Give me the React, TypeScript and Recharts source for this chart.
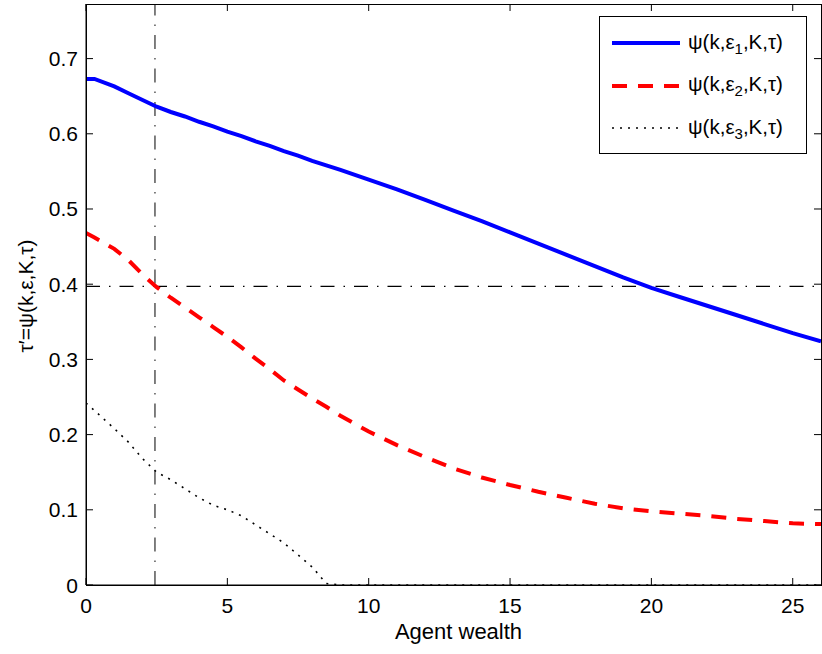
import { LineChart, Line, XAxis, YAxis, ReferenceLine } from "recharts";

// Agent wealth grid and the three policy curves ψ(k,ε_i,K,τ)
const wealth = [
  0, 0.3, 1, 1.5, 2, 2.5, 3, 3.5, 4, 4.5, 5, 5.5, 6, 6.5, 7, 7.5, 8, 8.5, 9,
  10, 11, 12, 13, 14, 15, 16, 17, 18, 19, 20, 21, 22, 23, 24, 25, 26,
];
const psiEps1 = [
  0.673, 0.673, 0.663, 0.654, 0.645, 0.636, 0.629, 0.623, 0.616, 0.61, 0.603,
  0.597, 0.59, 0.584, 0.577, 0.571, 0.564, 0.558, 0.552, 0.539, 0.526, 0.512,
  0.498, 0.484, 0.469, 0.454, 0.439, 0.424, 0.409, 0.395, 0.383, 0.371, 0.359,
  0.347, 0.335, 0.324,
];
const psiEps2 = [
  0.468, 0.462, 0.447, 0.432, 0.413, 0.396, 0.382, 0.369, 0.356, 0.343, 0.33,
  0.316, 0.301, 0.287, 0.272, 0.26, 0.248, 0.237, 0.225, 0.204, 0.186, 0.17,
  0.155, 0.143, 0.133, 0.124, 0.116, 0.108, 0.102, 0.098, 0.095, 0.092, 0.088,
  0.085, 0.082, 0.081,
];
const psiEps3 = [
  0.242, 0.232, 0.208, 0.19, 0.168, 0.15, 0.14, 0.128, 0.116, 0.106, 0.1, 0.092,
  0.08, 0.068, 0.056, 0.04, 0.024, 0.002, 0, 0, 0, 0, 0, 0, 0, 0, 0, 0, 0, 0, 0,
  0, 0, 0, 0, 0,
];

const xTicks = [0, 5, 10, 15, 20, 25];
const yTicks = [0, 0.1, 0.2, 0.3, 0.4, 0.5, 0.6, 0.7];
const xMax = 26;
const yMax = 0.7726;

// threshold markers (dash-dot guides)
const wealthCutoff = 2.44;
const tauCutoff = 0.397;

const data = wealth.map((k, i) => ({
  k,
  e1: psiEps1[i],
  e2: psiEps2[i],
  e3: psiEps3[i],
}));

const series = [
  { key: "e1", sub: "1", color: "#0000ff", width: 4, dash: undefined },
  { key: "e2", sub: "2", color: "#ff0000", width: 4, dash: "15 11" },
  { key: "e3", sub: "3", color: "#000000", width: 1.6, dash: "2 6" },
];

const FONT = '"Liberation Sans", Arial, Helvetica, sans-serif';
const W = 822;
const H = 654;
const MARGIN = { top: 4, right: 1, bottom: 0, left: 0 };
const X_AXIS_H = 69;
const Y_AXIS_W = 86;
const PLOT_TOP = MARGIN.top;
const PLOT_RIGHT = W - MARGIN.right;
const PLOT_BOTTOM = H - MARGIN.bottom - X_AXIS_H;
const TICK = 7;

const fmtY = (v: number) => (v === 0 ? "0" : v.toFixed(1));

// box ticks pointing inward, mirrored onto the top and right edges
function XTick(props: any) {
  const { x, payload } = props;
  return (
    <g>
      <path
        d={`M${x},${PLOT_BOTTOM}V${PLOT_BOTTOM - TICK}M${x},${PLOT_TOP}V${PLOT_TOP + TICK}`}
        stroke="#000"
        strokeWidth={1}
        fill="none"
      />
      <text x={x} y={PLOT_BOTTOM + 28} textAnchor="middle" fontSize={21} fontFamily={FONT} fill="#000">
        {payload.value}
      </text>
    </g>
  );
}

function YTick(props: any) {
  const { y, payload } = props;
  return (
    <g>
      <path
        d={`M${Y_AXIS_W},${y}H${Y_AXIS_W + TICK}M${PLOT_RIGHT - TICK},${y}H${PLOT_RIGHT}`}
        stroke="#000"
        strokeWidth={1}
        fill="none"
      />
      <text x={Y_AXIS_W - 8} y={y + 7.5} textAnchor="end" fontSize={21} fontFamily={FONT} fill="#000">
        {fmtY(payload.value)}
      </text>
    </g>
  );
}

function XTitle({ viewBox }: any) {
  return (
    <text
      x={viewBox.x + viewBox.width / 2 + 5}
      y={639}
      textAnchor="middle"
      fontSize={22}
      fontFamily={FONT}
      fill="#000"
    >
      Agent wealth
    </text>
  );
}

function YTitle() {
  const cx = 33;
  const cy = 296;
  return (
    <text
      x={cx}
      y={cy}
      transform={`rotate(-90, ${cx}, ${cy})`}
      textAnchor="middle"
      fontSize={21}
      fontFamily={FONT}
      fill="#000"
    >
      τ′=ψ(k,ε,K,τ)
    </text>
  );
}

function LegendBox() {
  return (
    <div
      style={{
        position: "absolute",
        left: 599,
        top: 16,
        width: 206,
        height: 136,
        border: "1px solid #000",
        background: "#fff",
        fontFamily: FONT,
        fontSize: 20.5,
        color: "#000",
      }}
    >
      {series.map((s, i) => (
        <div
          key={s.key}
          style={{
            position: "absolute",
            left: 0,
            top: 26 + i * 42.5 - 14,
            height: 28,
            display: "flex",
            alignItems: "center",
            whiteSpace: "nowrap",
          }}
        >
          <svg width={88} height={28} style={{ display: "block" }}>
            <line
              x1={12}
              x2={80}
              y1={14}
              y2={14}
              stroke={s.color}
              strokeWidth={s.width}
              strokeDasharray={s.dash}
            />
          </svg>
          <span>
            ψ(k,ε
            <sub style={{ fontSize: 15, verticalAlign: -5 }}>{s.sub}</sub>
            ,K,τ)
          </span>
        </div>
      ))}
    </div>
  );
}

export default function App() {
  return (
    <div style={{ position: "absolute", left: 0, top: 0, width: W, height: H, background: "#fff" }}>
      <LineChart width={W} height={H} data={data} margin={MARGIN} style={{ fontFamily: FONT }}>
        <XAxis
          dataKey="k"
          type="number"
          domain={[0, xMax]}
          ticks={xTicks}
          interval={0}
          height={X_AXIS_H}
          tickSize={0}
          tickLine={false}
          stroke="#000"
          tick={XTick}
          allowDataOverflow
          label={<XTitle />}
        />
        <YAxis
          type="number"
          domain={[0, yMax]}
          ticks={yTicks}
          interval={0}
          width={Y_AXIS_W}
          tickSize={0}
          tickLine={false}
          stroke="#000"
          tick={YTick}
          allowDataOverflow
          label={<YTitle />}
        />
        <ReferenceLine
          y={tauCutoff}
          stroke="#000"
          strokeWidth={1.2}
          strokeDasharray="14 9 1.5 9"
        />
        <ReferenceLine
          x={wealthCutoff}
          stroke="#000"
          strokeWidth={1}
          strokeDasharray="14 9 1.5 9"
        />
        {series.map((s) => (
          <Line
            key={s.key}
            type="linear"
            dataKey={s.key}
            stroke={s.color}
            strokeWidth={s.width}
            strokeDasharray={s.dash}
            dot={false}
            activeDot={false}
            isAnimationActive={false}
          />
        ))}
      </LineChart>
      {/* axes box frame */}
      <div
        style={{
          position: "absolute",
          left: Y_AXIS_W - 0.5,
          top: PLOT_TOP - 0.5,
          width: PLOT_RIGHT - Y_AXIS_W - 1,
          height: PLOT_BOTTOM - PLOT_TOP - 1,
          border: "1px solid #000",
          pointerEvents: "none",
        }}
      />
      <LegendBox />
    </div>
  );
}
